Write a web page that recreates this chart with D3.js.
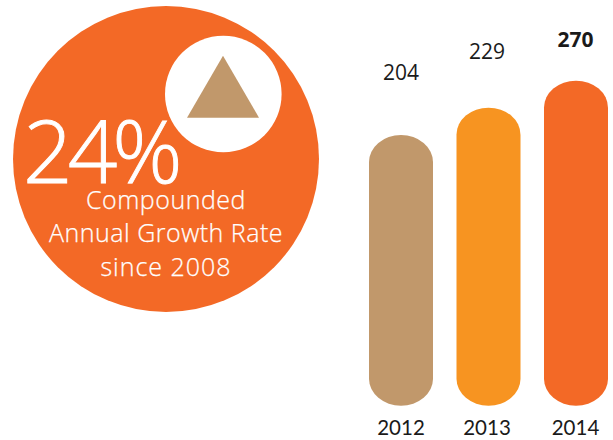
<!DOCTYPE html>
<html>
<head>
<meta charset="utf-8">
<style>
html,body{margin:0;padding:0;background:#fff}
svg{display:block}
text{font-family:"Open Sans","Noto Sans",sans-serif}
.year{font-family:Lato,"Open Sans",sans-serif}
</style>
<script src="https://cdn.jsdelivr.net/npm/d3@7"></script>
</head>
<body>
<svg id="chart" width="613" height="440"></svg>
<script>
const years = ["2012", "2013", "2014"];
const revenue = [204, 229, 270];
const barColors = ["#c1986b", "#f79421", "#f36926"];
const captionLines = ["Compounded", "Annual Growth Rate", "since 2008"];
const growthLabel = "24%";

const svg = d3.select("#chart");

// Headline badge
const badge = svg.append("g");
badge.append("circle").attr("cx", 166).attr("cy", 159).attr("r", 153).attr("fill", "#f36926");
badge.append("circle").attr("cx", 223.3).attr("cy", 94).attr("r", 58.3).attr("fill", "#fff");
badge.append("path")
  .attr("d", d3.line()([[223, 55.7], [259, 117.7], [187, 117.7]]) + "Z")
  .attr("fill", "#c1986b");

badge.append("text")
  .attr("x", 23).attr("y", 183)
  .attr("font-size", 87).attr("font-weight", 300)
  .attr("letter-spacing", -5)
  .attr("fill", "#fff")
  .attr("stroke", "#fff").attr("stroke-width", 0.9)
  .text(growthLabel);

badge.selectAll("text.caption")
  .data(captionLines)
  .join("text")
  .attr("class", "caption")
  .attr("x", 166)
  .attr("y", (d, i) => 208.5 + i * 33.5)
  .attr("text-anchor", "middle")
  .attr("font-size", 25).attr("font-weight", 300)
  .attr("letter-spacing", (d, i) => i === 2 ? 1 : 0.5)
  .attr("fill", "#fff")
  .attr("stroke", "#fff").attr("stroke-width", 0.25)
  .text(d => d);

// Bars: columns share a baseline, and their heights follow the published artwork's stepped scale
const x = d3.scalePoint().domain(years).range([401, 576]);
const barHeight = d3.scaleLinear().domain(revenue).range([270.7, 298, 325]);
const baseline = 405.7;
const barWidth = 64;

// Clearance between each column's top and its value label
const labelLift = d3.scaleOrdinal().domain(years).range([55, 49, 34]);
const labelShift = d3.scaleOrdinal().domain(years).range([0, -1.5, -0.5]);

const columns = svg.selectAll("g.column")
  .data(years.map((year, i) => ({year, value: revenue[i], color: barColors[i]})))
  .join("g")
  .attr("class", "column")
  .attr("transform", d => `translate(${x(d.year)},0)`);

columns.append("rect")
  .attr("x", -barWidth / 2)
  .attr("width", barWidth)
  .attr("y", d => baseline - barHeight(d.value))
  .attr("height", d => barHeight(d.value))
  .attr("rx", 32).attr("ry", 27)
  .attr("fill", d => d.color);

columns.append("text")
  .attr("x", d => labelShift(d.year))
  .attr("y", d => baseline - barHeight(d.value) - labelLift(d.year))
  .attr("text-anchor", "middle")
  .attr("font-size", 21)
  .attr("font-weight", d => d.year === "2014" ? 700 : 400)
  .attr("fill", "#1a1a1a")
  .text(d => d.value);

columns.append("text")
  .attr("class", "year")
  .attr("x", d => labelShift(d.year))
  .attr("y", 435)
  .attr("text-anchor", "middle")
  .attr("font-size", 20.5)
  .attr("fill", "#1a1a1a")
  .text(d => d.year);
</script>
</body>
</html>
